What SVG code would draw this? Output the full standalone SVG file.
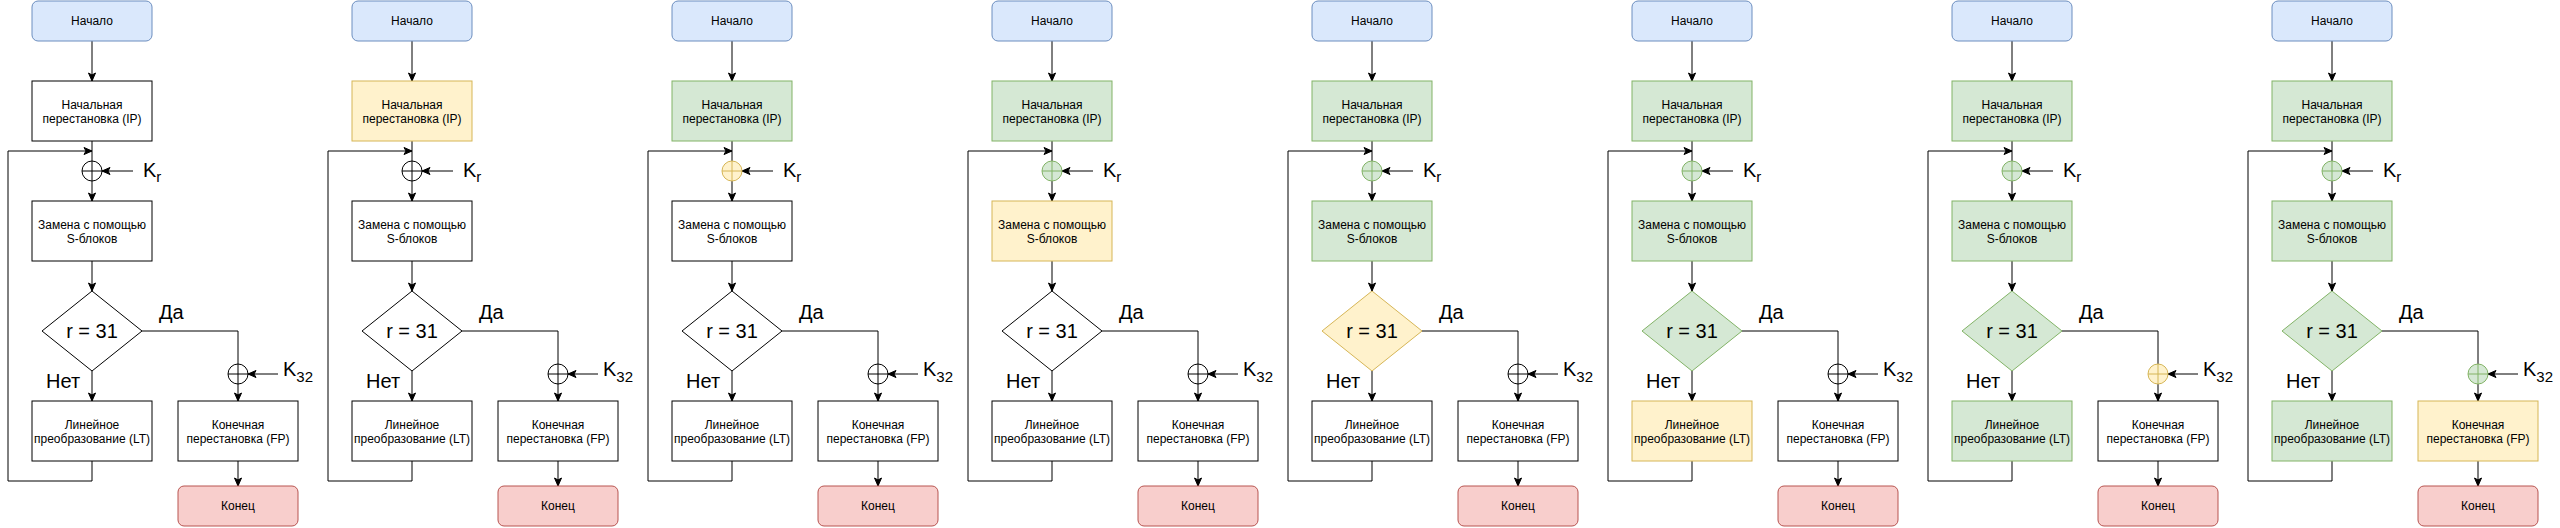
<svg xmlns="http://www.w3.org/2000/svg" width="2560" height="528" viewBox="0 0 2560 528">
<style>
text{font-family:"Liberation Sans",Arial,sans-serif;fill:#000}
.t{font-size:12px;text-anchor:middle}
.big{font-size:20px}
.c{text-anchor:middle}
.sub{font-size:15px}
.e{fill:none;stroke:#000;stroke-width:1}
.a{marker-end:url(#arr)}
.w{fill:#fff;stroke:#000;stroke-width:1}
.y{fill:#fff2cc;stroke:#d6b656;stroke-width:1}
.g{fill:#d5e8d4;stroke:#82b366;stroke-width:1}
.b{fill:#dae8fc;stroke:#6c8ebf;stroke-width:1}
.r{fill:#f8cecc;stroke:#b85450;stroke-width:1}
.pw{stroke:#000;stroke-width:1}
.py{stroke:#d6b656;stroke-width:1}
.pg{stroke:#82b366;stroke-width:1}
</style>
<defs>
<marker id="arr" markerUnits="userSpaceOnUse" markerWidth="10" markerHeight="9" refX="9" refY="4.5" orient="auto">
<path d="M1,1 L9,4.5 L1,8 L3,4.5 z" fill="#000" stroke="#000" stroke-width="1"/>
</marker>
<g id="edges">
<path class="e a" d="M92,41 L92,81"/>
<path class="e" d="M92,141 L92,161"/>
<path class="e a" d="M92,181 L92,201"/>
<path class="e a" d="M92,461 L92,481 L8,481 L8,151 L92,151"/>
<path class="e a" d="M133,171 L102,171"/>
<path class="e a" d="M92,261 L92,291"/>
<path class="e a" d="M92,371 L92,401"/>
<path class="e" d="M142,331 L238,331 L238,364"/>
<path class="e a" d="M238,384 L238,401"/>
<path class="e a" d="M278,374 L248,374"/>
<path class="e a" d="M238,461 L238,486"/>
<text class="big" x="159" y="319">Да</text>
<text class="big" x="46" y="388">Нет</text>
<text class="big" x="143" y="177">K<tspan class="sub" dy="5">r</tspan></text>
<text class="big" x="283" y="376">K<tspan class="sub" dy="6">32</tspan></text>
</g>
<g id="start"><rect class="b" x="32" y="1" width="120" height="40" rx="6"/><text class="t" x="92" y="25">Начало</text></g>
<g id="end"><rect class="r" x="178" y="486" width="120" height="40" rx="6"/><text class="t" x="238" y="510">Конец</text></g>
</defs>

<g id="panel1">
<g id="p1-edges"><use href="#edges"/></g>
<g id="p1-start"><use href="#start"/></g>
<g id="p1-ip"><rect class="w" x="32" y="81" width="120" height="60"/><text class="t" x="92" y="109">Начальная</text><text class="t" x="92" y="123">перестановка (IP)</text></g>
<g id="p1-xor1"><circle class="w" cx="92" cy="171" r="10"/><path class="pw" d="M82,171 H102 M92,161 V181"/></g>
<g id="p1-sbox"><rect class="w" x="32" y="201" width="120" height="60"/><text class="t" x="92" y="229">Замена с помощью</text><text class="t" x="92" y="243">S-блоков</text></g>
<g id="p1-dec"><path class="w" d="M92,291 L142,331 L92,371 L42,331 Z"/><text class="big c" x="92" y="338">r = 31</text></g>
<g id="p1-lt"><rect class="w" x="32" y="401" width="120" height="60"/><text class="t" x="92" y="429">Линейное</text><text class="t" x="92" y="443">преобразование (LT)</text></g>
<g id="p1-xor2"><circle class="w" cx="238" cy="374" r="10"/><path class="pw" d="M228,374 H248 M238,364 V384"/></g>
<g id="p1-fp"><rect class="w" x="178" y="401" width="120" height="60"/><text class="t" x="238" y="429">Конечная</text><text class="t" x="238" y="443">перестановка (FP)</text></g>
<g id="p1-end"><use href="#end"/></g>
</g>

<g id="panel2" transform="translate(320,0)">
<g id="p2-edges"><use href="#edges"/></g>
<g id="p2-start"><use href="#start"/></g>
<g id="p2-ip"><rect class="y" x="32" y="81" width="120" height="60"/><text class="t" x="92" y="109">Начальная</text><text class="t" x="92" y="123">перестановка (IP)</text></g>
<g id="p2-xor1"><circle class="w" cx="92" cy="171" r="10"/><path class="pw" d="M82,171 H102 M92,161 V181"/></g>
<g id="p2-sbox"><rect class="w" x="32" y="201" width="120" height="60"/><text class="t" x="92" y="229">Замена с помощью</text><text class="t" x="92" y="243">S-блоков</text></g>
<g id="p2-dec"><path class="w" d="M92,291 L142,331 L92,371 L42,331 Z"/><text class="big c" x="92" y="338">r = 31</text></g>
<g id="p2-lt"><rect class="w" x="32" y="401" width="120" height="60"/><text class="t" x="92" y="429">Линейное</text><text class="t" x="92" y="443">преобразование (LT)</text></g>
<g id="p2-xor2"><circle class="w" cx="238" cy="374" r="10"/><path class="pw" d="M228,374 H248 M238,364 V384"/></g>
<g id="p2-fp"><rect class="w" x="178" y="401" width="120" height="60"/><text class="t" x="238" y="429">Конечная</text><text class="t" x="238" y="443">перестановка (FP)</text></g>
<g id="p2-end"><use href="#end"/></g>
</g>

<g id="panel3" transform="translate(640,0)">
<g id="p3-edges"><use href="#edges"/></g>
<g id="p3-start"><use href="#start"/></g>
<g id="p3-ip"><rect class="g" x="32" y="81" width="120" height="60"/><text class="t" x="92" y="109">Начальная</text><text class="t" x="92" y="123">перестановка (IP)</text></g>
<g id="p3-xor1"><circle class="y" cx="92" cy="171" r="10"/><path class="py" d="M82,171 H102 M92,161 V181"/></g>
<g id="p3-sbox"><rect class="w" x="32" y="201" width="120" height="60"/><text class="t" x="92" y="229">Замена с помощью</text><text class="t" x="92" y="243">S-блоков</text></g>
<g id="p3-dec"><path class="w" d="M92,291 L142,331 L92,371 L42,331 Z"/><text class="big c" x="92" y="338">r = 31</text></g>
<g id="p3-lt"><rect class="w" x="32" y="401" width="120" height="60"/><text class="t" x="92" y="429">Линейное</text><text class="t" x="92" y="443">преобразование (LT)</text></g>
<g id="p3-xor2"><circle class="w" cx="238" cy="374" r="10"/><path class="pw" d="M228,374 H248 M238,364 V384"/></g>
<g id="p3-fp"><rect class="w" x="178" y="401" width="120" height="60"/><text class="t" x="238" y="429">Конечная</text><text class="t" x="238" y="443">перестановка (FP)</text></g>
<g id="p3-end"><use href="#end"/></g>
</g>

<g id="panel4" transform="translate(960,0)">
<g id="p4-edges"><use href="#edges"/></g>
<g id="p4-start"><use href="#start"/></g>
<g id="p4-ip"><rect class="g" x="32" y="81" width="120" height="60"/><text class="t" x="92" y="109">Начальная</text><text class="t" x="92" y="123">перестановка (IP)</text></g>
<g id="p4-xor1"><circle class="g" cx="92" cy="171" r="10"/><path class="pg" d="M82,171 H102 M92,161 V181"/></g>
<g id="p4-sbox"><rect class="y" x="32" y="201" width="120" height="60"/><text class="t" x="92" y="229">Замена с помощью</text><text class="t" x="92" y="243">S-блоков</text></g>
<g id="p4-dec"><path class="w" d="M92,291 L142,331 L92,371 L42,331 Z"/><text class="big c" x="92" y="338">r = 31</text></g>
<g id="p4-lt"><rect class="w" x="32" y="401" width="120" height="60"/><text class="t" x="92" y="429">Линейное</text><text class="t" x="92" y="443">преобразование (LT)</text></g>
<g id="p4-xor2"><circle class="w" cx="238" cy="374" r="10"/><path class="pw" d="M228,374 H248 M238,364 V384"/></g>
<g id="p4-fp"><rect class="w" x="178" y="401" width="120" height="60"/><text class="t" x="238" y="429">Конечная</text><text class="t" x="238" y="443">перестановка (FP)</text></g>
<g id="p4-end"><use href="#end"/></g>
</g>

<g id="panel5" transform="translate(1280,0)">
<g id="p5-edges"><use href="#edges"/></g>
<g id="p5-start"><use href="#start"/></g>
<g id="p5-ip"><rect class="g" x="32" y="81" width="120" height="60"/><text class="t" x="92" y="109">Начальная</text><text class="t" x="92" y="123">перестановка (IP)</text></g>
<g id="p5-xor1"><circle class="g" cx="92" cy="171" r="10"/><path class="pg" d="M82,171 H102 M92,161 V181"/></g>
<g id="p5-sbox"><rect class="g" x="32" y="201" width="120" height="60"/><text class="t" x="92" y="229">Замена с помощью</text><text class="t" x="92" y="243">S-блоков</text></g>
<g id="p5-dec"><path class="y" d="M92,291 L142,331 L92,371 L42,331 Z"/><text class="big c" x="92" y="338">r = 31</text></g>
<g id="p5-lt"><rect class="w" x="32" y="401" width="120" height="60"/><text class="t" x="92" y="429">Линейное</text><text class="t" x="92" y="443">преобразование (LT)</text></g>
<g id="p5-xor2"><circle class="w" cx="238" cy="374" r="10"/><path class="pw" d="M228,374 H248 M238,364 V384"/></g>
<g id="p5-fp"><rect class="w" x="178" y="401" width="120" height="60"/><text class="t" x="238" y="429">Конечная</text><text class="t" x="238" y="443">перестановка (FP)</text></g>
<g id="p5-end"><use href="#end"/></g>
</g>

<g id="panel6" transform="translate(1600,0)">
<g id="p6-edges"><use href="#edges"/></g>
<g id="p6-start"><use href="#start"/></g>
<g id="p6-ip"><rect class="g" x="32" y="81" width="120" height="60"/><text class="t" x="92" y="109">Начальная</text><text class="t" x="92" y="123">перестановка (IP)</text></g>
<g id="p6-xor1"><circle class="g" cx="92" cy="171" r="10"/><path class="pg" d="M82,171 H102 M92,161 V181"/></g>
<g id="p6-sbox"><rect class="g" x="32" y="201" width="120" height="60"/><text class="t" x="92" y="229">Замена с помощью</text><text class="t" x="92" y="243">S-блоков</text></g>
<g id="p6-dec"><path class="g" d="M92,291 L142,331 L92,371 L42,331 Z"/><text class="big c" x="92" y="338">r = 31</text></g>
<g id="p6-lt"><rect class="y" x="32" y="401" width="120" height="60"/><text class="t" x="92" y="429">Линейное</text><text class="t" x="92" y="443">преобразование (LT)</text></g>
<g id="p6-xor2"><circle class="w" cx="238" cy="374" r="10"/><path class="pw" d="M228,374 H248 M238,364 V384"/></g>
<g id="p6-fp"><rect class="w" x="178" y="401" width="120" height="60"/><text class="t" x="238" y="429">Конечная</text><text class="t" x="238" y="443">перестановка (FP)</text></g>
<g id="p6-end"><use href="#end"/></g>
</g>

<g id="panel7" transform="translate(1920,0)">
<g id="p7-edges"><use href="#edges"/></g>
<g id="p7-start"><use href="#start"/></g>
<g id="p7-ip"><rect class="g" x="32" y="81" width="120" height="60"/><text class="t" x="92" y="109">Начальная</text><text class="t" x="92" y="123">перестановка (IP)</text></g>
<g id="p7-xor1"><circle class="g" cx="92" cy="171" r="10"/><path class="pg" d="M82,171 H102 M92,161 V181"/></g>
<g id="p7-sbox"><rect class="g" x="32" y="201" width="120" height="60"/><text class="t" x="92" y="229">Замена с помощью</text><text class="t" x="92" y="243">S-блоков</text></g>
<g id="p7-dec"><path class="g" d="M92,291 L142,331 L92,371 L42,331 Z"/><text class="big c" x="92" y="338">r = 31</text></g>
<g id="p7-lt"><rect class="g" x="32" y="401" width="120" height="60"/><text class="t" x="92" y="429">Линейное</text><text class="t" x="92" y="443">преобразование (LT)</text></g>
<g id="p7-xor2"><circle class="y" cx="238" cy="374" r="10"/><path class="py" d="M228,374 H248 M238,364 V384"/></g>
<g id="p7-fp"><rect class="w" x="178" y="401" width="120" height="60"/><text class="t" x="238" y="429">Конечная</text><text class="t" x="238" y="443">перестановка (FP)</text></g>
<g id="p7-end"><use href="#end"/></g>
</g>

<g id="panel8" transform="translate(2240,0)">
<g id="p8-edges"><use href="#edges"/></g>
<g id="p8-start"><use href="#start"/></g>
<g id="p8-ip"><rect class="g" x="32" y="81" width="120" height="60"/><text class="t" x="92" y="109">Начальная</text><text class="t" x="92" y="123">перестановка (IP)</text></g>
<g id="p8-xor1"><circle class="g" cx="92" cy="171" r="10"/><path class="pg" d="M82,171 H102 M92,161 V181"/></g>
<g id="p8-sbox"><rect class="g" x="32" y="201" width="120" height="60"/><text class="t" x="92" y="229">Замена с помощью</text><text class="t" x="92" y="243">S-блоков</text></g>
<g id="p8-dec"><path class="g" d="M92,291 L142,331 L92,371 L42,331 Z"/><text class="big c" x="92" y="338">r = 31</text></g>
<g id="p8-lt"><rect class="g" x="32" y="401" width="120" height="60"/><text class="t" x="92" y="429">Линейное</text><text class="t" x="92" y="443">преобразование (LT)</text></g>
<g id="p8-xor2"><circle class="g" cx="238" cy="374" r="10"/><path class="pg" d="M228,374 H248 M238,364 V384"/></g>
<g id="p8-fp"><rect class="y" x="178" y="401" width="120" height="60"/><text class="t" x="238" y="429">Конечная</text><text class="t" x="238" y="443">перестановка (FP)</text></g>
<g id="p8-end"><use href="#end"/></g>
</g>
</svg>
